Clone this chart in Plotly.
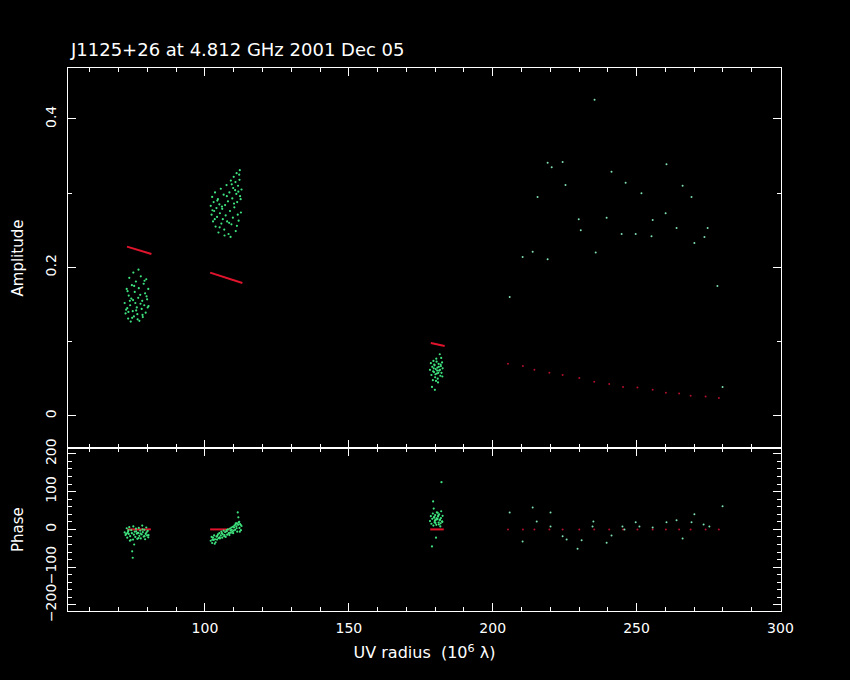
import plotly.graph_objects as go

# ---------------- data ----------------
title_text = "J1125+26 at 4.812 GHz 2001 Dec 05"

# cluster 1 (UV ~72-81)
c1_uv = [72.1,72.4,72.8,73.0,73.3,73.5,73.7,74.0,74.2,74.4,74.6,74.9,75.1,75.3,75.6,75.8,76.0,76.3,76.5,76.8,
         77.0,77.2,77.5,77.7,78.0,78.2,78.4,78.7,78.9,79.2,79.4,79.6,79.9,80.1,80.3,
         72.6,73.1,73.9,74.7,75.4,76.1,76.9,77.6,78.3,79.0,79.7,80.4,73.4,75.0,76.6]
c1_amp = [0.152,0.138,0.171,0.145,0.131,0.162,0.186,0.149,0.127,0.158,0.176,0.141,0.193,0.134,0.167,0.152,0.181,0.146,0.137,0.159,
          0.172,0.128,0.163,0.188,0.144,0.155,0.133,0.178,0.149,0.165,0.139,0.184,0.157,0.146,0.171,
          0.143,0.168,0.155,0.132,0.175,0.142,0.197,0.151,0.136,0.182,0.161,0.148,0.140,0.156,0.130]
c1_phase = [-8,-15,3,-22,-5,-12,6,-18,-28,-2,-10,-75,8,-14,-6,-20,2,-11,-25,-9,
            4,-17,-3,-24,-13,10,-7,-19,-1,-26,-12,5,-16,-4,-21,
            -12,-9,-30,-58,-40,-5,-23,-11,0,-18,-8,-15,-2,-27,-10]

# cluster 2 (UV ~102-113)
c2_uv = [102.0,102.3,102.5,102.8,103.0,103.2,103.5,103.7,104.0,104.2,104.5,104.7,105.0,105.2,105.5,105.7,106.0,106.2,106.5,106.7,
         107.0,107.2,107.5,107.7,108.0,108.2,108.5,108.7,109.0,109.2,109.5,109.7,110.0,110.2,110.5,110.7,111.0,111.2,111.5,111.7,
         112.0,112.2,112.5,112.7,
         102.6,103.4,104.3,105.1,105.9,106.8,107.6,108.4,109.3,110.1,110.9,111.4,111.9,112.4,108.9,109.8,110.6,111.1,111.6,112.1]
c2_amp = [0.283,0.271,0.295,0.262,0.288,0.276,0.301,0.255,0.280,0.268,0.292,0.247,0.285,0.273,0.306,0.259,0.279,0.265,0.298,0.251,
          0.284,0.270,0.311,0.262,0.289,0.245,0.301,0.276,0.317,0.258,0.293,0.267,0.322,0.281,0.304,0.249,0.327,0.288,0.310,0.263,
          0.318,0.296,0.274,0.305,
          0.277,0.265,0.290,0.254,0.282,0.243,0.296,0.260,0.312,0.286,0.299,0.271,0.325,0.292,0.241,0.307,0.315,0.256,0.302,0.331]
c2_phase = [-30,-20,-36,-22,-28,-16,-26,-34,-19,-27,-13,-23,-10,-24,-16,-6,-22,-13,-3,-18,
            -7,-20,-2,-14,0,-11,-15,2,-9,5,-6,7,-3,10,-1,16,3,-6,12,18,
            4,14,-2,9,
            -27,-38,-17,-21,-10,-15,-5,-9,-1,5,8,45,20,12,-3,-10,13,16,32,-6]

# cluster 3 (UV ~178-183)
c3_uv = [178.2,178.5,178.7,179.0,179.2,179.4,179.6,179.8,180.0,180.2,180.4,180.6,180.8,181.0,181.2,181.4,181.6,181.8,182.0,182.2,
         182.4,182.6,178.9,179.3,179.7,180.1,180.5,180.9,181.3,181.7,182.1,182.5,179.5,180.3,181.1,181.9,180.7,179.9]
c3_amp = [0.062,0.071,0.055,0.066,0.048,0.074,0.059,0.068,0.052,0.063,0.077,0.057,0.065,0.045,0.070,0.061,0.083,0.054,0.067,0.058,
          0.072,0.064,0.039,0.060,0.069,0.056,0.073,0.050,0.066,0.062,0.078,0.053,0.064,0.047,0.058,0.069,0.061,0.035]
c3_phase = [22,35,15,28,42,10,31,19,38,25,12,45,27,34,18,40,24,8,30,125,
            21,36,-45,74,33,17,29,44,13,26,48,20,55,-22,37,16,28,23]

# sparse long-baseline points (UV > 200)
far_amp_uv = [235.4,219.1,220.5,224.3,225.3,215.6,241.3,246.2,251.7,260.4,266.0,269.1,260.1,255.6,239.6,229.9,230.6,
              244.8,249.7,255.2,263.9,274.7,273.6,270.1,235.8,213.9,210.4,219.1,278.1,205.9,279.9]
far_amp = [0.426,0.341,0.335,0.342,0.311,0.295,0.329,0.314,0.300,0.339,0.310,0.295,0.273,0.264,0.267,0.265,0.250,
           0.245,0.245,0.242,0.253,0.253,0.241,0.233,0.220,0.221,0.214,0.211,0.175,0.160,0.039]
far_ph_uv = [205.9,213.9,210.4,215.3,220.1,224.3,225.7,229.5,230.9,234.7,235.0,239.6,241.3,245.1,245.8,249.7,251.0,
             255.6,260.4,263.9,266.0,269.1,270.1,273.3,275.3,279.9,220.1]
far_phase = [45,58,-32,21,8,-18,-27,-51,-29,8,21,-35,-16,8,0,19,8,
             5,19,24,-24,19,40,13,8,61,45]

# model (red)
m1_uv = [72.9, 81.4]
m1_amp = [0.228, 0.218]
m2_uv = [101.8, 113.0]
m2_amp = [0.193, 0.179]
m3_uv = [178.5, 183.3]
m3_amp = [0.098, 0.094]
mfar_uv = [205.3,210.5,214.5,219.7,224.3,230.1,235.3,240.5,245.3,250.3,255.6,260.2,264.8,268.8,274.0,278.6]
mfar_amp = [0.070,0.067,0.062,0.058,0.055,0.051,0.046,0.043,0.039,0.038,0.035,0.031,0.030,0.027,0.026,0.024]
mph1_uv = [73.0, 81.2]
mph2_uv = [101.8, 108.5]
mph3_uv = [178.3, 183.0]
mph_value = 0.0

amp_ticks = [0, 0.2, 0.4]
amp_ticklabels = ["0", "0.2", "0.4"]
phase_ticks = [-200, -100, 0, 100, 200]
phase_ticklabels = ["\u2212200", "\u2212100", "0", "100", "200"]
uv_ticks = [100, 150, 200, 250, 300]

# ---------------- figure ----------------
GREEN = "#3ee27e"
RED = "#e0142c"
FONT = "DejaVu Sans"

fig = go.Figure()

def red_line(x, y, xa, ya):
    fig.add_trace(go.Scatter(x=x, y=y, mode="lines", line=dict(color=RED, width=2),
                             xaxis=xa, yaxis=ya, hoverinfo="skip", showlegend=False))

def pts(x, y, xa, ya, size=2.2, color=GREEN):
    fig.add_trace(go.Scatter(x=x, y=y, mode="markers",
                             marker=dict(color=color, size=size, line=dict(width=0)),
                             xaxis=xa, yaxis=ya, hoverinfo="skip", showlegend=False))

# amplitude panel (x2, y)
red_line(m1_uv, m1_amp, "x2", "y")
red_line(m2_uv, m2_amp, "x2", "y")
red_line(m3_uv, m3_amp, "x2", "y")
pts(mfar_uv, mfar_amp, "x2", "y", size=2, color="#b0102a")
pts(c1_uv, c1_amp, "x2", "y")
pts(c2_uv, c2_amp, "x2", "y")
pts(c3_uv, c3_amp, "x2", "y")
pts(far_amp_uv, far_amp, "x2", "y", size=2, color="#7fe0b0")

# phase panel (x, y2)
red_line(mph1_uv, [mph_value] * len(mph1_uv), "x", "y2")
red_line(mph2_uv, [mph_value] * len(mph2_uv), "x", "y2")
red_line(mph3_uv, [mph_value] * len(mph3_uv), "x", "y2")
pts(mfar_uv, [mph_value] * len(mfar_uv), "x", "y2", size=2, color="#b0102a")
pts(c1_uv, c1_phase, "x", "y2")
pts(c2_uv, c2_phase, "x", "y2")
pts(c3_uv, c3_phase, "x", "y2")
pts(far_ph_uv, far_phase, "x", "y2", size=2, color="#7fe0b0")

axis_common = dict(showgrid=False, zeroline=False, showline=True, linecolor="white", linewidth=1,
                   mirror="allticks", ticks="inside", tickcolor="white", ticklen=8, tickwidth=1,
                   tickfont=dict(family=FONT, size=14, color="white"))

fig.update_layout(
    width=850, height=680,
    paper_bgcolor="black", plot_bgcolor="black",
    margin=dict(l=68, r=69, t=68, b=69),
    showlegend=False,
    xaxis=dict(**axis_common, range=[52.4, 300.2], anchor="y2",
               tickvals=uv_ticks, ticktext=[str(v) for v in uv_ticks], ticklabelstandoff=4,
               minor=dict(dtick=10, tick0=0, ticks="inside", ticklen=4, tickcolor="white"),
               title=dict(text="UV radius  (10<sup>6</sup> \u03bb)", font=dict(family=FONT, size=16, color="white"),
                          standoff=12)),
    xaxis2=dict(**axis_common, range=[52.4, 300.2], anchor="y", matches="x",
                tickvals=uv_ticks, showticklabels=False,
                minor=dict(dtick=10, tick0=0, ticks="inside", ticklen=4, tickcolor="white")),
    yaxis=dict(**axis_common, domain=[0.3, 1.0], range=[-0.0435, 0.4687],
               tickvals=amp_ticks, ticktext=amp_ticklabels, tickangle=-90, ticklabelstandoff=5,
               minor=dict(dtick=0.1, tick0=0, ticks="inside", ticklen=4, tickcolor="white"),
               title=dict(text="Amplitude", font=dict(family=FONT, size=15, color="white"), standoff=16)),
    yaxis2=dict(**axis_common, domain=[0.0, 0.3], range=[-215.9, 215.1],
                tickvals=phase_ticks, ticktext=phase_ticklabels, tickangle=-90, ticklabelstandoff=5,
                minor=dict(dtick=20, tick0=0, ticks="inside", ticklen=4, tickcolor="white"),
                title=dict(text="Phase", font=dict(family=FONT, size=15, color="white"), standoff=16)),
    annotations=[dict(text=title_text, x=0, xref="paper", xanchor="left", y=1, yref="paper",
                      yanchor="bottom", yshift=6, showarrow=False,
                      font=dict(family=FONT, size=18, color="white"))],
)

fig.write_html("out.html", config={"displayModeBar": False},
               post_script="document.body.style.margin='0';document.body.style.background='black';")
